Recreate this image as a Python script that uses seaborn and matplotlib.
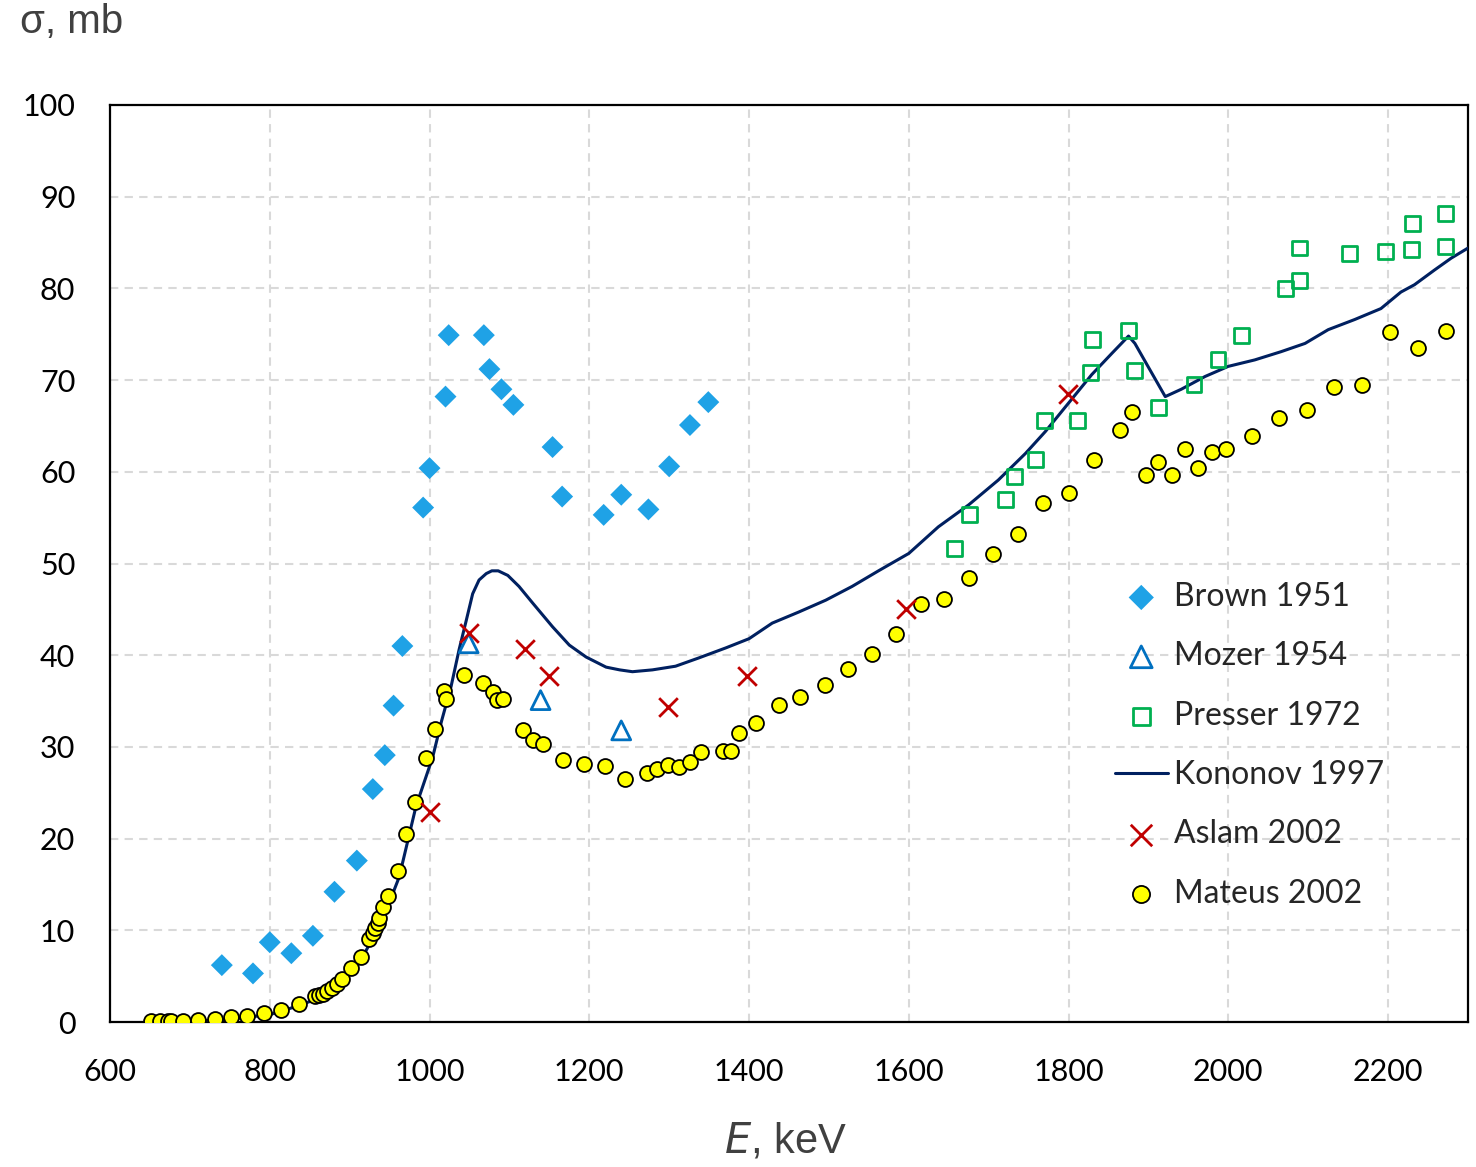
import matplotlib
matplotlib.use("Agg")
import matplotlib.pyplot as plt
import seaborn as sns

# Brown 1951
brown_e = [740, 779, 800, 827, 854, 881, 909, 929, 944, 955, 966, 992, 1000, 1020, 1024,
           1068, 1075, 1090, 1105, 1154, 1166, 1218, 1240, 1274, 1300, 1326, 1349]
brown_s = [6.2, 5.3, 8.7, 7.5, 9.4, 14.2, 17.6, 25.4, 29.1, 34.5, 41.0, 56.1, 60.4, 68.2, 74.9,
           74.9, 71.2, 69.0, 67.3, 62.7, 57.3, 55.3, 57.5, 55.9, 60.6, 65.1, 67.6]

# Mozer 1954
mozer_e = [1049, 1139, 1240]
mozer_s = [41.3, 35.1, 31.8]

# Presser 1972
presser_e = [1657, 1676, 1721, 1732, 1759, 1770, 1811, 1827, 1830, 1875, 1882, 1912,
             1957, 1987, 2017, 2071, 2089, 2089, 2152, 2197, 2229, 2231, 2272, 2272]
presser_s = [51.6, 55.3, 57.0, 59.5, 61.3, 65.6, 65.6, 70.8, 74.4, 75.4, 71.0, 67.0,
             69.5, 72.2, 74.9, 80.0, 80.9, 84.4, 83.8, 84.0, 84.2, 87.1, 84.6, 88.2]

# Kononov 1997 (evaluated curve)
kononov_e = [660, 700, 750, 800, 837, 879, 912, 941, 962, 983, 1004, 1015, 1027, 1037, 1046,
             1054, 1062, 1071, 1078, 1086, 1098, 1112, 1129, 1154, 1175, 1196, 1221, 1238,
             1254, 1279, 1308, 1337, 1371, 1400, 1429, 1462, 1496, 1529, 1562, 1600, 1637,
             1675, 1712, 1746, 1771, 1800, 1829, 1854, 1875, 1883, 1900, 1921, 1941, 1971,
             2000, 2033, 2066, 2096, 2125, 2158, 2191, 2216, 2233, 2258, 2279, 2300]
kononov_s = [0.0, 0.05, 0.3, 0.8, 1.8, 3.2, 6.4, 11.1, 15.8, 23.5, 28.9, 32.8, 36.6, 40.6, 43.8,
             46.7, 48.2, 48.9, 49.2, 49.2, 48.7, 47.5, 45.7, 43.1, 41.1, 39.8, 38.7, 38.4,
             38.2, 38.4, 38.8, 39.7, 40.8, 41.8, 43.5, 44.7, 46.0, 47.5, 49.2, 51.1, 54.0,
             56.4, 59.1, 62.0, 64.4, 67.5, 70.6, 72.9, 74.8, 74.0, 71.4, 68.2, 69.0, 70.4,
             71.5, 72.2, 73.1, 74.0, 75.5, 76.6, 77.8, 79.6, 80.4, 82.0, 83.3, 84.4]

# Aslam 2002
aslam_e = [1000, 1049, 1119, 1149, 1299, 1398, 1597, 1799]
aslam_s = [22.9, 42.4, 40.7, 37.7, 34.4, 37.7, 45.0, 68.5]

# Mateus 2002
mateus_e = [651, 662, 673, 676, 691, 710, 731, 751, 772, 793, 814, 836, 857, 862, 867, 872,
            878, 884, 891, 902, 914, 924, 929, 932, 935, 937, 942, 948, 960, 971, 982, 995,
            1007, 1018, 1021, 1043, 1067, 1080, 1085, 1092, 1117, 1130, 1142, 1167, 1193,
            1220, 1245, 1272, 1285, 1299, 1312, 1326, 1340, 1367, 1378, 1388, 1409, 1438,
            1464, 1495, 1524, 1554, 1584, 1615, 1644, 1675, 1706, 1737, 1768, 1800, 1832,
            1864, 1880, 1897, 1912, 1929, 1946, 1962, 1979, 1997, 2029, 2064, 2098, 2132,
            2167, 2202, 2238, 2273]
mateus_s = [0.1, 0.1, 0.1, 0.1, 0.1, 0.2, 0.3, 0.5, 0.6, 1.0, 1.3, 2.0, 2.8, 2.9, 3.1, 3.4,
            3.7, 4.1, 4.7, 5.9, 7.1, 9.1, 9.7, 10.2, 10.8, 11.3, 12.5, 13.7, 16.5, 20.5, 24.0, 28.8,
            31.9, 36.1, 35.2, 37.8, 37.0, 36.0, 35.1, 35.2, 31.8, 30.7, 30.3, 28.6, 28.1,
            27.9, 26.5, 27.1, 27.6, 28.0, 27.8, 28.3, 29.4, 29.6, 29.5, 31.5, 32.6, 34.6,
            35.4, 36.7, 38.5, 40.1, 42.3, 45.6, 46.1, 48.4, 51.0, 53.2, 56.6, 57.7, 61.3,
            64.6, 66.5, 59.6, 61.1, 59.7, 62.5, 60.4, 62.2, 62.5, 63.9, 65.9, 66.7, 69.3,
            69.5, 75.2, 73.5, 75.3]

x_ticks = [600, 800, 1000, 1200, 1400, 1600, 1800, 2000, 2200]
y_ticks = [0, 10, 20, 30, 40, 50, 60, 70, 80, 90, 100]

sns.set_style("white")
plt.rcParams["font.family"] = ["Lato", "DejaVu Sans"]

W, H = 1476, 1167
fig = plt.figure(figsize=(W / 100, H / 100), dpi=100)
ax = fig.add_axes([110 / W, 1 - 1022 / H, 1358 / W, 917 / H])

sns.scatterplot(x=brown_e, y=brown_s, ax=ax, marker="D", s=125, color="#1FA2E6",
                edgecolor="none", label="Brown 1951", zorder=3)
sns.scatterplot(x=mozer_e, y=mozer_s, ax=ax, marker="^", s=185, facecolor="none",
                edgecolor="#0070C0", linewidth=2.0, label="Mozer 1954", zorder=4)
sns.scatterplot(x=presser_e, y=presser_s, ax=ax, marker="s", s=115, facecolor="none",
                edgecolor="#00B050", linewidth=2.0, label="Presser 1972", zorder=4)
sns.lineplot(x=kononov_e, y=kononov_s, ax=ax, color="#002060", linewidth=2.2,
             label="Kononov 1997", zorder=3, sort=False)
sns.scatterplot(x=aslam_e, y=aslam_s, ax=ax, marker="x", s=180, color="#C00000",
                linewidth=2.0, label="Aslam 2002", zorder=5)
sns.scatterplot(x=mateus_e, y=mateus_s, ax=ax, marker="o", s=115, color="#FFFF00",
                edgecolor="black", linewidth=1.3, label="Mateus 2002", zorder=4)

ax.set_xlim(600, 2300)
ax.set_ylim(0, 100)
ax.set_xticks(x_ticks)
ax.set_yticks(y_ticks)
ax.tick_params(axis="both", length=0, labelsize=22, colors="black")
ax.tick_params(axis="x", pad=26)
ax.tick_params(axis="y", pad=25)
ax.grid(True, color="#D9D9D9", linestyle=(0, (4, 3)), linewidth=1.5)
ax.set_axisbelow(True)
for sp in ax.spines.values():
    sp.set_visible(True)
    sp.set_color("black")
    sp.set_linewidth(1.6)
ax.set_xlabel("")
ax.set_ylabel("")

order = ["Brown 1951", "Mozer 1954", "Presser 1972", "Kononov 1997", "Aslam 2002", "Mateus 2002"]
handles, labels = ax.get_legend_handles_labels()
hmap = dict(zip(labels, handles))
ax.legend([hmap[k] for k in order], order, loc="upper left",
          bbox_to_anchor=(0.740, 0.480), frameon=False, fontsize=23,
          handlelength=1.65, handletextpad=0.2, labelspacing=0.92,
          borderpad=0, borderaxespad=0, markerscale=1.15)

fig.text(20 / W, 1 - 22 / H, "σ, mb", fontsize=29, color="#404040",
         family=["Liberation Sans", "DejaVu Sans"], ha="left", va="center")
fig.text(785 / W, 1 - 1142 / H, r"$\mathit{E}$, keV", fontsize=30, color="#404040",
         family=["Liberation Sans", "DejaVu Sans"], ha="center", va="center")

fig.savefig("out.png", dpi=100)
